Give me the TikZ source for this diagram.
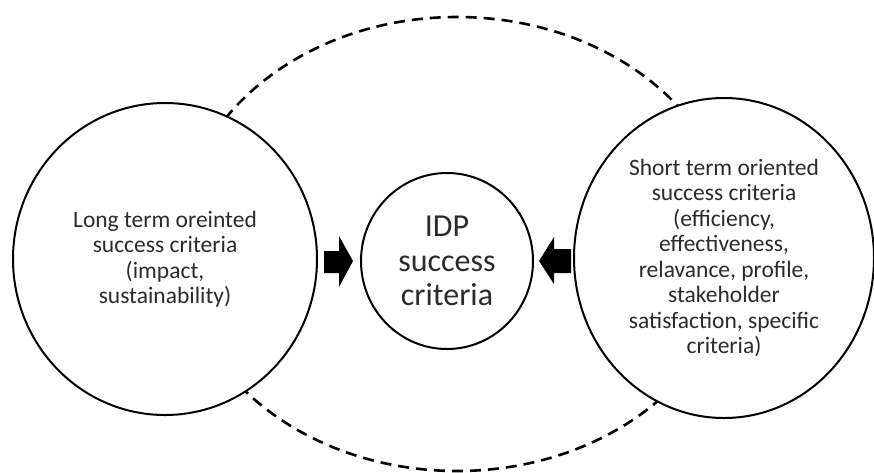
\documentclass[tikz,border=0pt]{standalone}
\usepackage{fontspec}
\setmainfont{Carlito}
\usetikzlibrary{shapes.geometric}
\definecolor{inktext}{HTML}{2B2B2B}
\begin{document}
\begin{tikzpicture}[x=1pt,y=-1pt,
  ring/.style={draw=black, line width=2pt, fill=white, ellipse, inner sep=0pt,
               align=center, text=inktext},
  sidetext/.style={font=\fontsize{23.5}{25.5}\selectfont},
  coretext/.style={font=\fontsize{32}{34.5}\selectfont},
  blockarrow/.style={fill=black, draw=none}]
  \useasboundingbox (0,0) rectangle (874,472);

  % dashed outer boundary
  \node[draw=black, line width=2.6pt, dash pattern=on 11pt off 7pt, ellipse,
        minimum width=556pt, minimum height=454pt, inner sep=0pt] (outer) at (457,244) {};

  % the three criteria circles
  \node[ring, sidetext, minimum width=304pt, minimum height=312pt] (long) at (165,259)
    {Long term oreinted\\success criteria\\(impact,\\sustainability)};
  \node[ring, sidetext, minimum width=300pt, minimum height=320pt] (short) at (724,258)
    {Short term oriented\\success criteria\\(efficiency,\\effectiveness,\\relavance, profile,\\stakeholder\\satisfaction, specific\\criteria)};
  \node[ring, coretext, minimum width=172pt, minimum height=176pt] (idp) at (447,261)
    {IDP\\success\\criteria};

  % block arrows pointing to the centre
  \coordinate (ltip) at ([xshift=-7pt]idp.west);
  \coordinate (rtip) at ([xshift=5pt]idp.east);
  \fill[blockarrow] (ltip) -- ++(-14,-25) -- ++(0,15) -- ++(-15,0) -- ++(0,22)
        -- ++(15,0) -- ++(0,14) -- cycle;
  \fill[blockarrow] (rtip) -- ++(15,-24) -- ++(0,12) -- ++(17,0) -- ++(0,24)
        -- ++(-17,0) -- ++(0,11) -- cycle;
\end{tikzpicture}
\end{document}
